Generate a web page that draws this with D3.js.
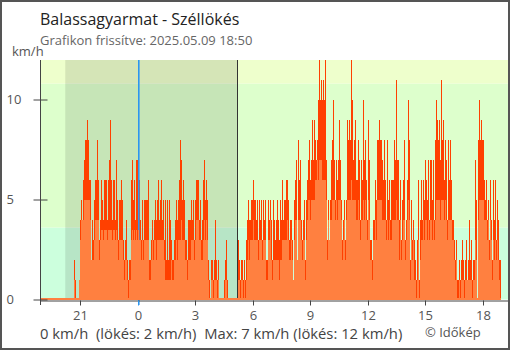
<!DOCTYPE html>
<html>
<head>
<meta charset="utf-8">
<script src="https://cdn.jsdelivr.net/npm/d3@7"></script>
<style>
  html, body { margin: 0; padding: 0; background: #fff; }
  svg { display: block; font-family: "Open Sans", sans-serif; }
</style>
</head>
<body>
<svg id="chart" width="510" height="350"></svg>
<script>
// Station and update info
const chartTitle = "Balassagyarmat - Széllökés";
const updatedText = "Grafikon frissítve: 2025.05.09 18:50";
const unitLabel = "km/h";
const creditText = "© Időkép";

// Time frame of the series (evenly spaced samples over the last 24 hours)
const seriesStart = "2025-05-08T18:50";
const seriesEnd = "2025-05-09T18:50";
const axisStart = "2025-05-08T18:50";
const axisEnd = "2025-05-09T19:15";
const sunsetTime = "2025-05-08T20:09";
const sunriseTime = "2025-05-09T05:08";
const midnightTime = "2025-05-09T00:00";
const xTickTimes = ["2025-05-08T21:00", "2025-05-09T00:00", "2025-05-09T03:00", "2025-05-09T06:00",
                    "2025-05-09T09:00", "2025-05-09T12:00", "2025-05-09T15:00", "2025-05-09T18:00"];

// Vertical scale (km/h)
const yMax = 12;
const yTicks = [0, 5, 10];
const bandLimits = [0, 3.6, 10.8, 12];
const bandColors = ["#ccffdd", "#ddffcc", "#eeffcc"];

// Gusts (km/h)
const gust = [
  0,0,0,0,0,0,0,0,0,0,  0,0,0,0,0,0,0,0,0,0,  0,0,0,0,0,0,0,0,0,0,
  0,0,0,0,2,1,0,0,0,1,  4,5,4,6,7,8,8,9,8,6,  6,2,4,3,5,6,6,8,6,3,
  4,6,5,4,6,6,6,4,6,7,  9,6,4,6,6,4,7,5,3,5,  5,6,5,3,2,3,4,2,1,2,
  2,6,7,5,6,4,7,7,7,6,  4,3,5,3,5,5,5,5,6,2,  2,3,4,3,4,5,4,5,6,4,
  5,6,4,5,3,5,2,5,2,5,  4,3,2,2,3,4,5,4,5,6,  8,7,5,6,5,3,3,2,4,4,
  4,5,4,5,3,5,6,6,6,4,  5,3,4,6,7,5,6,5,2,1,  0,2,2,1,2,4,2,1,2,0,
  0,0,0,0,1,2,3,1,0,0,  0,0,0,0,0,0,0,0,3,2,  1,2,2,1,2,1,3,4,5,4,
  4,5,5,6,5,5,4,5,3,5,  4,5,3,5,4,5,2,5,4,5,  4,2,5,4,3,4,5,4,3,5,
  4,6,4,5,5,6,6,5,3,4,  4,3,1,5,6,7,2,8,6,7,  4,3,4,5,2,5,6,7,8,6,
  7,9,7,9,8,7,8,10,12,10,  11,10,11,10,12,7,3,5,3,5,  7,8,10,7,5,7,6,7,9,7,
  5,3,4,5,3,5,9,8,9,8,  12,10,7,8,9,6,6,8,7,4,  7,6,10,7,8,6,4,9,7,3,
  3,2,4,4,6,5,8,8,9,8,  8,7,6,8,6,4,8,5,6,4,  6,6,6,8,7,11,7,7,4,6,
  3,5,6,8,3,4,6,10,8,2,  5,3,4,3,2,1,3,6,1,4,  6,4,6,5,7,6,5,7,4,7,
  7,5,7,4,8,10,9,8,9,7,  11,8,9,6,8,7,4,8,6,8,  6,4,4,3,2,3,1,1,2,1,
  2,3,2,1,2,3,1,2,4,2,  3,1,2,2,7,5,0,8,10,8,  9,8,8,6,5,6,4,5,3,6,
  4,2,6,4,6,3,5,4,2,2
];

// Mean wind speed (km/h)
const wind = [
  0,0,0,0,0,0,0,0,0,0,  0,0,0,0,0,0,0,0,0,0,  0,0,0,0,0,0,0,0,0,0,
  0,0,0,0,1,0,0,0,0,1,  3,4,4,4,5,5,5,5,5,5,  4,2,2,2,3,4,4,4,4,2,
  3,3.5,3.5,3,3.5,3.5,3.5,3,3.5,3.5,  3.5,3.5,3,3.5,3.5,3,3.5,3,2,3,  3,3,3,2,1,2,2,1,0,1,
  1,3,3.5,3,3.5,3,3.5,3,3.5,3,  3,2,3,2,3,3,3,3,3,1,  1,2,3,2,3,3,2,3,3,3,
  3,3,3,3,2,1,1,1,1,1,  1,2,1,1,2,2,3,2,3,3,  3,4,3,3,3,2,2,1,2,2,
  2,3,3,3,2,3,4,4,4,3,  3,2,2,3,4,3,4,3,1,0,  0,1,1,0,1,1,1,0,1,0,
  0,0,0,0,0,1,1,0,0,0,  0,0,0,0,0,0,0,0,1,1,  0,1,1,0,1,0,1,2,3,2,
  3,3,3,4,3,3,3,3,2,3,  3,3,2,3,3,3,1,3,3,4,  2,1,2,2,2,2,2,2,1,2,
  2,3,3,3,3,3,4,3,2,2,  3,2,1,3,4,4,2,4,4,4,  3,2,3,3,1,3,4,5,5,4,
  5,5,5,5,6,6,7,6,7,7,  7,6,6,6,6,5,2,4,3,4,  4,5,5,5,4,5,4,5,5,5,
  4,2,3,4,2,4,5,5,5,5,  6,5,5,5,5,4,4,5,4,3,  4,4,5,4,5,4,3,5,4,2,
  2,1,3,3,4,3,5,5,5,5,  5,4,4,4,4,3,4,3,4,3,  3,4,4,4,4,5,4,4,2,4,
  2,3,4,4,2,3,4,5,4,1,  3,2,3,1,1,0,1,3,0,2,  3,3,4,3,4,4,3,4,3,4,
  4,3,4,3,4,5,5,5,5,4,  5,5,5,4,5,4,3,4,4,4,  4,3,3,2,1,2,0,0,1,0,
  1,1,1,0,1,1,1,1,1,1,  1,0,1,1,3,2,0,4,5,5,  5,5,5,4,4,4,3,4,2,4,
  3,1,3,2,3,2,3,2,1,0
];

const parse = d3.timeParse("%Y-%m-%dT%H:%M");
const svg = d3.select("#chart");

const plot = { left: 40, right: 508, top: 60, bottom: 300 };
const midnightColor = "#2b95f0";

const x = d3.scaleTime()
  .domain([parse(axisStart), parse(axisEnd)])
  .range([plot.left, plot.right]);
const y = d3.scaleLinear()
  .domain([0, yMax])
  .range([plot.bottom - 0.5, plot.top - 0.5]);

// sample times
const t0 = parse(seriesStart).getTime();
const t1 = parse(seriesEnd).getTime();
const n = gust.length;
const dt = (t1 - t0) / (n - 1);
const samples = gust.map((g, i) => ({
  t: new Date(t0 + i * dt),
  t2: new Date(t0 + (i + 1) * dt),
  g: g,
  w: wind[i]
}));

// Background bands
const bands = bandColors.map((c, i) => ({ lo: bandLimits[i], hi: bandLimits[i + 1], color: c }));
svg.append("g").selectAll("rect").data(bands).join("rect")
  .attr("x", plot.left)
  .attr("width", plot.right - plot.left)
  .attr("y", d => Math.max(plot.top, y(d.hi)))
  .attr("height", d => Math.min(plot.bottom, y(d.lo)) - Math.max(plot.top, y(d.hi)))
  .attr("fill", d => d.color);

// Night shading
svg.append("rect")
  .attr("x", x(parse(sunsetTime)))
  .attr("width", x(parse(sunriseTime)) - x(parse(sunsetTime)))
  .attr("y", plot.top)
  .attr("height", plot.bottom - plot.top)
  .attr("fill", "rgba(0,0,0,0.1)");

const barH = v => Math.max(2, plot.bottom - y(v));

// Gust bars
svg.append("g").attr("shape-rendering", "crispEdges")
  .selectAll("rect").data(samples).join("rect")
  .attr("x", d => x(d.t))
  .attr("width", d => x(d.t2) - x(d.t))
  .attr("y", d => plot.bottom - barH(d.g))
  .attr("height", d => barH(d.g))
  .attr("fill", "#ff4000");

// Midnight and sunrise markers
const midX = Math.floor(x(parse(midnightTime)));
svg.append("rect")
  .attr("x", midX - 1).attr("width", 1.6)
  .attr("y", plot.top).attr("height", plot.bottom + 5 - plot.top)
  .attr("fill", midnightColor);
const riseX = Math.floor(x(parse(sunriseTime)));
svg.append("rect")
  .attr("x", riseX).attr("width", 1)
  .attr("y", plot.top).attr("height", plot.bottom - plot.top)
  .attr("fill", "#333");

// Mean wind bars
svg.append("g").attr("shape-rendering", "crispEdges")
  .selectAll("rect").data(samples).join("rect")
  .attr("x", d => x(d.t))
  .attr("width", d => x(d.t2) - x(d.t))
  .attr("y", d => plot.bottom - barH(d.w))
  .attr("height", d => barH(d.w))
  .attr("fill", "#ff8040");

// X axis
const fmtHour = d3.timeFormat("%-H");
const xAxis = svg.append("g")
  .attr("transform", `translate(0,${plot.bottom + 0.5})`)
  .call(d3.axisBottom(x)
    .tickValues(xTickTimes.map(parse))
    .tickFormat(fmtHour)
    .tickSize(5)
    .tickSizeOuter(0));
xAxis.select(".domain").attr("stroke", "#444");
xAxis.selectAll(".tick").attr("transform", d => `translate(${Math.floor(x(d)) - 0.5},0)`);
xAxis.selectAll(".tick line").attr("stroke", d => fmtHour(d) === "0" ? midnightColor : "#444");
xAxis.selectAll(".tick text")
  .attr("y", 10)
  .attr("fill", "#555")
  .style("font-size", "13px")
  .style("font-family", "'Open Sans', sans-serif");

// Y axis
const yAxis = svg.append("g")
  .attr("transform", `translate(${plot.left + 0.5},0)`)
  .call(d3.axisLeft(y).tickValues(yTicks).tickSize(7).tickSizeOuter(0));
yAxis.select(".domain").remove();
yAxis.selectAll(".tick line").attr("x2", 7).attr("x1", -7).attr("stroke", "#444");
yAxis.selectAll(".tick text")
  .attr("x", 6 - plot.left)
  .attr("text-anchor", "start")
  .attr("fill", "#555")
  .style("font-size", "13px")
  .style("font-family", "'Open Sans', sans-serif");
svg.append("line")
  .attr("x1", plot.left + 0.5).attr("x2", plot.left + 0.5)
  .attr("y1", plot.top).attr("y2", plot.bottom + 5)
  .attr("stroke", "#444");

// Texts
svg.append("text").attr("x", 40).attr("y", 25)
  .attr("fill", "#222").style("font-size", "16px").text(chartTitle);
svg.append("text").attr("x", 40).attr("y", 45)
  .attr("fill", "#666").style("font-size", "13px").text(updatedText);
svg.append("text").attr("x", 12).attr("y", 56)
  .attr("fill", "#555").style("font-size", "13px").text(unitLabel);

const lastW = wind[wind.length - 1];
const lastG = gust[gust.length - 1];
const maxW = d3.max(wind);
const maxG = d3.max(gust);
svg.append("text").attr("x", 40).attr("y", 339)
  .attr("fill", "#444").style("font-size", "14.8px").style("white-space", "pre")
  .text(`${lastW} km/h  (lökés: ${lastG} km/h)  Max: ${maxW} km/h (lökés: ${maxG} km/h)`);
svg.append("text").attr("x", 425).attr("y", 337)
  .attr("fill", "#555").style("font-size", "13px").text(creditText);

// Frame
svg.append("rect").attr("x", 1).attr("y", 1).attr("width", 508).attr("height", 348)
  .attr("fill", "none").attr("stroke", "#555").attr("stroke-width", 2);
</script>
</body>
</html>
